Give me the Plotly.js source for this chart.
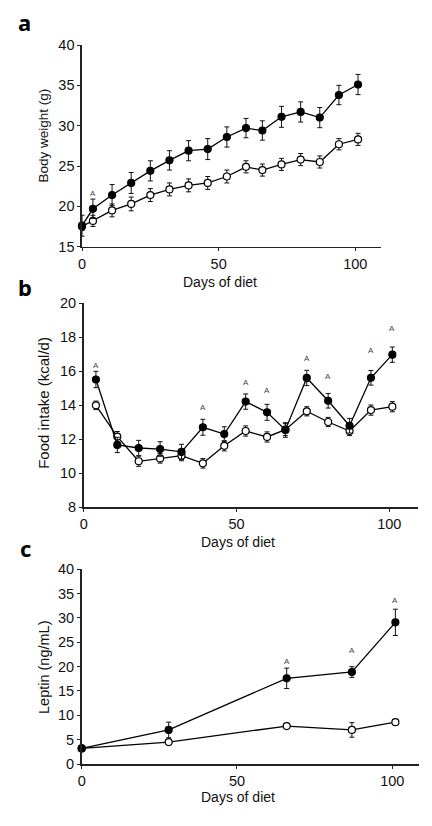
<!DOCTYPE html>
<html>
<head>
<meta charset="utf-8">
<script src="https://cdn.plot.ly/plotly-3.0.1.min.js"></script>
<style>html,body{margin:0;padding:0;background:#fff;}#chart{width:432px;height:826px;}</style>
</head>
<body>
<div id="chart"></div>
<script>
// ---- Panel a: body weight (g)
const daysA = [0, 4, 11, 18, 25, 32, 39, 46, 53, 60, 66, 73, 80, 87, 94, 101];
const bwHighFat = [17.6, 19.7, 21.4, 22.9, 24.4, 25.7, 26.9, 27.1, 28.6, 29.7, 29.4, 31.1, 31.7, 31.0, 33.8, 35.1];
const bwHighFatErr = [1.3, 1.2, 1.3, 1.3, 1.25, 1.2, 1.25, 1.3, 1.25, 1.2, 1.2, 1.3, 1.25, 1.25, 1.2, 1.25];
const bwLowFat = [17.5, 18.2, 19.5, 20.3, 21.4, 22.1, 22.6, 22.9, 23.7, 24.9, 24.5, 25.2, 25.8, 25.5, 27.7, 28.3];
const bwLowFatErr = [0.5, 0.7, 0.8, 0.85, 0.8, 0.8, 0.8, 0.8, 0.8, 0.75, 0.75, 0.75, 0.75, 0.75, 0.7, 0.75];
const sigA_days = [4];
const sigA_y = [21.6];

// ---- Panel b: food intake (kcal/d)
const daysB = [4, 11, 18, 25, 32, 39, 46, 53, 60, 66, 73, 80, 87, 94, 101];
const fiHighFat = [15.5, 11.65, 11.47, 11.41, 11.24, 12.69, 12.29, 14.2, 13.57, 12.53, 15.59, 14.25, 12.78, 15.6, 16.96];
const fiHighFatErr = [0.48, 0.45, 0.45, 0.43, 0.45, 0.47, 0.43, 0.45, 0.47, 0.43, 0.45, 0.43, 0.43, 0.43, 0.45];
const fiLowFat = [13.98, 12.14, 10.69, 10.86, 11.02, 10.57, 11.6, 12.47, 12.12, 12.55, 13.63, 13.0, 12.47, 13.7, 13.9];
const fiLowFatErr = [0.25, 0.3, 0.3, 0.28, 0.3, 0.28, 0.3, 0.3, 0.3, 0.35, 0.27, 0.27, 0.27, 0.3, 0.3];
const sigB_days = [4, 39, 53, 60, 73, 80, 94, 101];
const sigB_y = [16.3, 13.84, 15.33, 14.84, 16.73, 15.69, 17.2, 18.5];

// ---- Panel c: leptin (ng/mL)
const daysC = [0, 28, 66, 87, 101];
const lepHighFat = [3.2, 7.0, 17.6, 18.9, 29.1];
const lepHighFatErr = [0.3, 1.6, 2.1, 1.1, 2.7];
const lepLowFat = [3.2, 4.5, 7.8, 7.0, 8.6];
const lepLowFatErr = [0.4, 0.3, 0.5, 1.5, 0.5];
const sigC_days = [66, 87, 101];
const sigC_y = [21.0, 23.4, 33.5];

const xTitle = "Days of diet";
const yTitles = ["Body weight (g)", "Food intake (kcal/d)", "Leptin (ng/mL)"];
const panelLabels = ["a", "b", "c"];

const FONT = "'Liberation Sans', Arial, sans-serif";
const W = 432, H = 826;

function series(x, y, err, filled, xa, ya) {
  return {
    type: "scatter", mode: "lines+markers",
    x: x, y: y, xaxis: xa, yaxis: ya,
    line: {color: "#000", width: 1.3},
    marker: {size: 7, color: filled ? "#000" : "#fff", line: {color: "#000", width: 1.2}},
    error_y: {type: "data", array: err, visible: true, color: "#111", thickness: 1, width: 2.5},
    showlegend: false, cliponaxis: false
  };
}

const data = [
  series(daysA, bwLowFat, bwLowFatErr, false, "x", "y"),
  series(daysA, bwHighFat, bwHighFatErr, true, "x", "y"),
  series(daysB, fiLowFat, fiLowFatErr, false, "x2", "y2"),
  series(daysB, fiHighFat, fiHighFatErr, true, "x2", "y2"),
  series(daysC, lepLowFat, lepLowFatErr, false, "x3", "y3"),
  series(daysC, lepHighFat, lepHighFatErr, true, "x3", "y3"),
];

function xax(domain, range, anchor) {
  return {
    domain: domain, range: range, anchor: anchor,
    showline: true, linecolor: "#222", linewidth: 1.6,
    ticks: "outside", ticklen: 3, tickcolor: "#222",
    tickvals: [0, 50, 100], ticktext: ["0", "50", "100"],
    showgrid: false, zeroline: false,
    tickfont: {family: FONT, size: 14.5, color: "#111"}
  };
}
function yax(domain, range, anchor, dtick) {
  return {
    domain: domain, range: range, anchor: anchor,
    showline: true, linecolor: "#222", linewidth: 1.6,
    ticks: "outside", ticklen: 3, tickcolor: "#222",
    dtick: dtick, tick0: 0,
    showgrid: false, zeroline: false,
    tickfont: {family: FONT, size: 14.5, color: "#111"}
  };
}

const annotations = [];
function sig(days, ys, xa, ya) {
  days.forEach((d, i) => annotations.push({
    x: d, y: ys[i], xref: xa, yref: ya, text: "A", showarrow: false,
    font: {family: FONT, size: 8, color: "#444"}
  }));
}
sig(sigA_days, sigA_y, "x", "y");
sig(sigB_days, sigB_y, "x2", "y2");
sig(sigC_days, sigC_y, "x3", "y3");

// axis titles (placed in pixel positions of the figure)
const xTitlePos = [[220, 282], [238, 541.5], [237.5, 797]];
const yTitlePos = [[43.5, 136], [43.3, 402.5], [43.3, 666.7]];
const yTitleSize = [13.5, 15, 14.5];
for (let i = 0; i < 3; i++) {
  annotations.push({
    x: xTitlePos[i][0] / W, y: 1 - xTitlePos[i][1] / H, xref: "paper", yref: "paper",
    xanchor: "center", yanchor: "middle", text: xTitle, showarrow: false,
    font: {family: FONT, size: 14, color: "#111"}
  });
  annotations.push({
    x: yTitlePos[i][0] / W, y: 1 - yTitlePos[i][1] / H, xref: "paper", yref: "paper",
    xanchor: "center", yanchor: "middle", text: yTitles[i], textangle: -90, showarrow: false,
    font: {family: FONT, size: yTitleSize[i], color: "#111"}
  });
}

const labelPos = [[24, 39], [25, 304], [25, 565]];
panelLabels.forEach((t, i) => annotations.push({
  x: labelPos[i][0] / W, y: 1 - labelPos[i][1] / H, xref: "paper", yref: "paper",
  xanchor: "center", yanchor: "bottom", text: "<b>" + t + "</b>", showarrow: false,
  font: {family: "'Noto Sans', 'Open Sans', sans-serif", size: 22, color: "#000"}
}));

const layout = {
  width: W, height: H,
  margin: {l: 0, r: 0, t: 0, b: 0},
  paper_bgcolor: "#fff", plot_bgcolor: "#fff",
  font: {family: FONT},
  xaxis: xax([82 / W, 381 / W], [0, 109.4], "y"),
  yaxis: yax([1 - 246.7 / H, 1 - 45 / H], [15, 40], "x", 5),
  xaxis2: xax([83.7 / W, 417.7 / W], [0, 109.3], "y2"),
  yaxis2: yax([1 - 507 / H, 1 - 303 / H], [8, 20], "x2", 2),
  xaxis3: xax([81.7 / W, 419.3 / W], [0, 108.7], "y3"),
  yaxis3: yax([1 - 764 / H, 1 - 569.3 / H], [0, 40], "x3", 5),
  annotations: annotations,
  showlegend: false
};

Plotly.newPlot("chart", data, layout, {displayModeBar: false, staticPlot: true});
</script>
</body>
</html>
